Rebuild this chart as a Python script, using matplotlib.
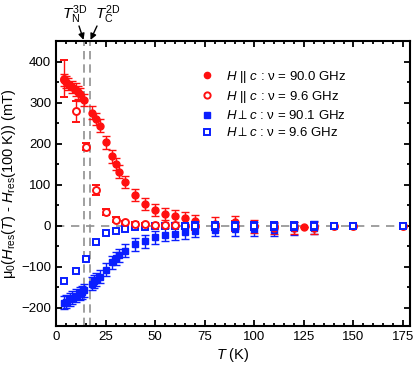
import matplotlib
matplotlib.use("Agg")
import matplotlib.pyplot as plt
from matplotlib.ticker import MultipleLocator
from matplotlib.lines import Line2D

plt.rcParams['font.family'] = ['Liberation Sans', 'DejaVu Sans']
plt.rcParams['mathtext.fontset'] = 'custom'
plt.rcParams['mathtext.rm'] = 'Liberation Sans'
plt.rcParams['mathtext.it'] = 'Liberation Sans:italic'
plt.rcParams['mathtext.bf'] = 'Liberation Sans:bold'

# H || c, 90.0 GHz
t_par_hf = [4, 5, 6, 8, 10, 11, 12, 14, 18, 20, 22, 25, 28, 30, 32, 35, 40, 45, 50, 55,
            60, 65, 70, 80, 90, 100, 110, 120, 125, 130]
y_par_hf = [356, 350, 346, 338, 332, 325, 320, 307, 276, 261, 244, 203, 169, 150, 132, 106, 75, 53, 39, 29,
            23, 18, 12, 5, 8, -2, -5, -5, -3, -5]
e_par_hf = [15, 15, 15, 15, 15, 15, 15, 15, 15, 15, 15, 15, 15, 15, 15, 15, 15, 15, 15, 15,
            15, 15, 15, 15, 15, 15, 15, 15, 0, 15]

# H || c, 9.6 GHz
t_par_lf = [4, 10, 15, 20, 25, 30, 35, 40, 45, 50, 55, 60, 65, 70, 80, 90, 100, 110, 120, 130, 140, 150, 175]
y_par_lf = [358, 279, 193, 86, 33, 15, 8, 5, 3, 2, 1, 1, 0, 0, 0, 0, 0, 0, 0, 0, 0, 0, 0]
e_par_lf = [45, 25, 8, 12, 8, 5, 3, 3, 3, 3, 3, 3, 3, 10, 10, 12, 10, 10, 10, 10, 3, 3, 3]

# H perp c, 90.1 GHz
t_perp_hf = [4, 5, 7, 8, 10, 12, 13, 14, 18, 19, 20, 22, 25, 28, 30, 32, 35, 40, 45, 50, 55,
             60, 65, 70, 80, 90, 100, 110, 120, 130]
y_perp_hf = [-188, -185, -180, -176, -171, -165, -162, -158, -142, -136, -132, -124, -107, -89, -80, -72, -61,
             -45, -38, -28, -22, -20, -16, -12, -10, -8, -8, -10, -6, -5]
e_perp_hf = [16] * 30

# H perp c, 9.6 GHz
t_perp_lf = [4, 10, 15, 20, 25, 30, 35, 40, 45, 50, 55, 60, 65, 70, 80, 90, 100, 110, 120, 130, 140, 150, 175]
y_perp_lf = [-134, -111, -81, -40, -18, -12, -8, -4, -4, -2, -1, -1, 0, 0, 0, 0, 0, 0, 0, 0, 0, 0, 0]
e_perp_lf = [3] * 13 + [8, 10, 10, 10, 10, 10, 10, 3, 3, 3]

t_n, t_c = 14.1, 17.1

red = '#ff1010'
blue = '#0a1eff'

fig = plt.figure(figsize=(4.15, 3.71), dpi=100)
ax = fig.add_axes([0.135, 0.121, 0.853, 0.768])

ax.axhline(0, color='#909090', ls=(0, (5, 4)), lw=1.2, zorder=0)
ax.axvline(t_n, color='#909090', ls=(0, (5, 3)), lw=1.2, zorder=0)
ax.axvline(t_c, color='#909090', ls=(0, (5, 3)), lw=1.2, zorder=0)

kw = dict(capsize=3, elinewidth=1, capthick=1, ms=5, ls='none')
ax.errorbar(t_perp_lf, y_perp_lf, yerr=e_perp_lf, fmt='s', color=blue, mfc='white', mew=1.4, **kw)
ax.errorbar(t_par_lf, y_par_lf, yerr=e_par_lf, fmt='o', color=red, mfc='white', mew=1.4, zorder=2, **kw)
ax.errorbar(t_perp_lf[12:], y_perp_lf[12:], yerr=e_perp_lf[12:], fmt='s', color=blue, mfc='white',
            mew=1.4, zorder=3, **kw)
ax.errorbar(t_perp_hf, y_perp_hf, yerr=e_perp_hf, fmt='s', color=blue, **kw)
ax.errorbar(t_par_hf, y_par_hf, yerr=e_par_hf, fmt='o', color=red, **kw)

ax.set_xlim(0, 178.5)
ax.set_ylim(-245, 450)
ax.xaxis.set_major_locator(MultipleLocator(25))
ax.xaxis.set_minor_locator(MultipleLocator(5))
ax.yaxis.set_major_locator(MultipleLocator(100))
ax.yaxis.set_minor_locator(MultipleLocator(50))
ax.tick_params(which='both', direction='in', top=True, right=True, width=1.3, labelsize=9.5)
ax.tick_params(which='major', length=4)
ax.tick_params(which='minor', length=2.5)
for s in ax.spines.values():
    s.set_linewidth(1.5)

ax.set_xlabel(r'$T$ (K)', fontsize=10.5, labelpad=2)
ax.set_ylabel(r'μ$_0$($H_{\rm res}$($T$) - $H_{\rm res}$(100 K)) (mT)', fontsize=10.5, labelpad=2)

handles = [
    Line2D([], [], ls='none', marker='o', ms=4.5, color=red),
    Line2D([], [], ls='none', marker='o', ms=4.5, color=red, mfc='white', mew=1.4),
    Line2D([], [], ls='none', marker='s', ms=4, color=blue),
    Line2D([], [], ls='none', marker='s', ms=4, color=blue, mfc='white', mew=1.4),
]
labels = [r'$H$ || $c$ : ν = 90.0 GHz', r'$H$ || $c$ : ν = 9.6 GHz',
          r'$H\perp c$ : ν = 90.1 GHz', r'$H\perp c$ : ν = 9.6 GHz']
ax.legend(handles, labels, loc='upper left', bbox_to_anchor=(0.365, 0.945),
          frameon=False, fontsize=9.5, handletextpad=0.7, labelspacing=0.32, handlelength=1.5)

fig.text(75 / 415, 1 - 15 / 371, r'$T_{\rm N}^{\rm 3D}$', ha='center', va='center', fontsize=11)
fig.text(108 / 415, 1 - 15 / 371, r'$T_{\rm C}^{\rm 2D}$', ha='center', va='center', fontsize=11)
ax.annotate('', xy=(t_n, 450), xycoords='data', xytext=(79 / 415, 1 - 26 / 371),
            textcoords='figure fraction', annotation_clip=False,
            arrowprops=dict(arrowstyle='-|>', color='black', lw=1, mutation_scale=9, shrinkA=0, shrinkB=1))
ax.annotate('', xy=(t_c, 450), xycoords='data', xytext=(97 / 415, 1 - 26 / 371),
            textcoords='figure fraction', annotation_clip=False,
            arrowprops=dict(arrowstyle='-|>', color='black', lw=1, mutation_scale=9, shrinkA=0, shrinkB=1))

fig.savefig('out.png', dpi=100)
